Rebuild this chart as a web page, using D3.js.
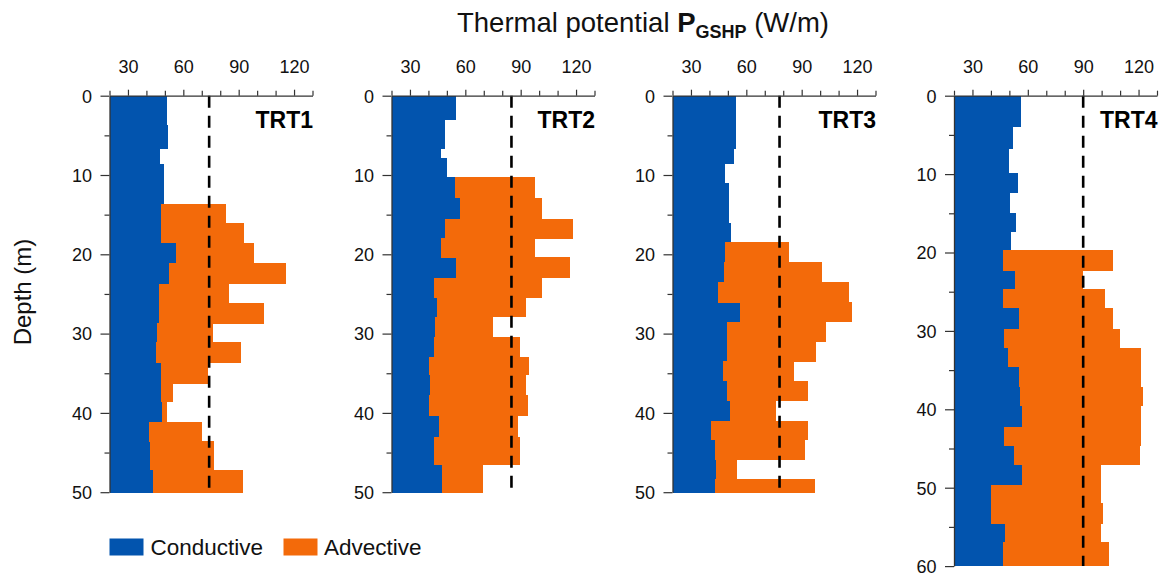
<!DOCTYPE html>
<html><head><meta charset="utf-8">
<script src="https://cdn.jsdelivr.net/npm/d3@7"></script>
<style>body{margin:0;background:#fff} svg{display:block;font-family:Arial,"Liberation Sans",sans-serif}</style>
</head><body><svg id="chart" width="1169" height="577"></svg>
<script>
// ---------- data ----------
const panelNames = ["TRT1", "TRT2", "TRT3", "TRT4"];
const xTickLabels = [30, 60, 90, 120];
const meanValues = [74, 85, 78, 90];          // dashed reference line (W/m)
const maxDepths = [50, 50, 50, 60];
const seriesNames = ["Conductive", "Advective"];

// depth boundaries (m), conductive potential, total potential (conductive + advective)
const trt1Depths = [0, 3.7, 6.7, 8.6, 11.3, 13.7, 16.1, 18.6, 21.1, 23.7, 26.1, 28.7, 31.0, 33.7, 36.3, 38.6, 41.1, 43.6, 47.2, 50];
const trt1Conductive = [51.3, 51.8, 47.1, 49.8, 49.5, 47.7, 47.7, 56.1, 52.2, 46.6, 46.6, 45.9, 45.1, 47.7, 47.9, 48.4, 41.4, 41.7, 43.7];
const trt1Total = [null, null, null, null, null, 83.2, 92.7, 98.3, 115.6, 84.6, 103.7, 75.9, 91.4, 73.2, 54.5, 51.4, 70.3, 76.8, 92.2];

const trt2Depths = [0, 3.0, 6.7, 7.8, 10.3, 12.9, 15.5, 18.0, 20.4, 23.0, 25.5, 27.9, 30.4, 32.9, 35.2, 37.7, 40.3, 43.0, 46.5, 50];
const trt2Conductive = [55.1, 49.1, 46.7, 50.0, 54.5, 56.9, 48.9, 46.7, 55.1, 42.9, 44.9, 43.8, 43.1, 40.2, 40.9, 40.5, 45.6, 43.1, 47.3];
const trt2Total = [null, null, null, null, 97.6, 101.6, 118.4, 97.6, 116.5, 101.3, 93.1, 75.1, 89.8, 94.7, 93.1, 94.0, 88.5, 89.5, 69.8];

const trt3Depths = [0, 6.7, 8.6, 11.05, 13.6, 16.1, 18.5, 21.0, 23.5, 26.05, 28.5, 31.0, 33.5, 36.0, 38.5, 41.0, 43.4, 45.9, 48.3, 50];
const trt3Conductive = [54.5, 53.4, 48.2, 50.5, 50.4, 51.8, 48.7, 48.0, 44.4, 56.8, 49.3, 49.8, 47.3, 49.6, 50.9, 40.6, 43.2, 43.7, 43.2];
const trt3Total = [null, null, null, null, null, null, 83.3, 100.8, 115.4, 117.4, 103.2, 97.9, 85.9, 93.2, 76.1, 93.2, 91.6, 54.7, 97.2];

const trt4Depths = [0, 3.9, 6.8, 9.8, 12.4, 14.9, 17.4, 19.7, 22.3, 24.7, 27.1, 29.7, 32.2, 34.6, 37.1, 39.6, 42.2, 44.7, 47.1, 49.6, 52.0, 54.6, 56.9, 60];
const trt4Conductive = [56.4, 51.7, 49.6, 54.6, 50.1, 53.6, 51.0, 46.5, 52.8, 46.7, 55.4, 47.0, 49.2, 55.2, 55.5, 57.0, 47.0, 52.6, 57.0, 40.3, 40.3, 47.4, 46.3];
const trt4Total = [null, null, null, null, null, null, null, 106.1, 90.0, 101.7, 106.1, 109.9, 121.1, 121.3, 122.2, 121.1, 121.5, 120.8, 99.9, 99.9, 100.7, 99.7, 103.9];

const depthsAll = [trt1Depths, trt2Depths, trt3Depths, trt4Depths];
const condAll = [trt1Conductive, trt2Conductive, trt3Conductive, trt4Conductive];
const totalAll = [trt1Total, trt2Total, trt3Total, trt4Total];

// ---------- layout ----------
const colBlue = "#0254AE", colOrange = "#F36A0A", axisCol = "#333";
const panelLeft = [109.5, 391.5, 672.5, 954];
const panelWidth = 203;
const plotTop = 95.7;
const pxPerMeter = [7.93, 7.93, 7.93, 7.84];
const xDomain = [20, 130];
const FONT = "Arial, 'Liberation Sans', sans-serif";

const svg = d3.select("#chart");

panelNames.forEach((name, p) => {
  const x = d3.scaleLinear().domain(xDomain).range([panelLeft[p], panelLeft[p] + panelWidth]);
  const y = d3.scaleLinear().domain([0, maxDepths[p]]).range([plotTop, plotTop + maxDepths[p] * pxPerMeter[p]]);
  const g = svg.append("g");
  const depths = depthsAll[p], cond = condAll[p], total = totalAll[p];
  const segs = cond.map((c, i) => ({ d0: depths[i], d1: depths[i + 1], c, t: total[i] }));

  g.selectAll("rect.cond").data(segs).join("rect")
    .attr("class", "cond")
    .attr("x", x(xDomain[0])).attr("y", d => y(d.d0))
    .attr("width", d => x(d.c) - x(xDomain[0]))
    .attr("height", d => y(d.d1) - y(d.d0) + 0.3)
    .attr("fill", colBlue).attr("shape-rendering", "crispEdges");

  g.selectAll("rect.adv").data(segs.filter(d => d.t != null)).join("rect")
    .attr("class", "adv")
    .attr("x", d => x(d.c)).attr("y", d => y(d.d0))
    .attr("width", d => x(d.t) - x(d.c))
    .attr("height", d => y(d.d1) - y(d.d0) + 0.3)
    .attr("fill", colOrange).attr("shape-rendering", "crispEdges");

  // dashed mean line
  g.append("line")
    .attr("x1", x(meanValues[p])).attr("x2", x(meanValues[p]))
    .attr("y1", y(0)).attr("y2", y(maxDepths[p]))
    .attr("stroke", "#000").attr("stroke-width", 2.6).attr("stroke-dasharray", "12,8");

  // top axis
  const xAxis = d3.axisTop(x).tickValues(d3.range(20, 131, 10))
    .tickSizeInner(5).tickSizeOuter(0)
    .tickFormat(v => xTickLabels.includes(v) ? v : "");
  const ax = g.append("g").attr("transform", `translate(0,${plotTop})`).call(xAxis);
  ax.select(".domain").attr("stroke", axisCol).attr("stroke-width", 1.3);
  ax.selectAll(".tick line").attr("stroke", axisCol).attr("stroke-width", 1.2)
    .attr("y2", v => xTickLabels.includes(v) ? -6 : -5);
  ax.selectAll(".tick text").attr("y", -22.5).attr("dy", 0)
    .attr("font-size", 18).attr("fill", "#111").attr("font-family", FONT);

  // left axis
  const yAxis = d3.axisLeft(y).tickValues(d3.range(0, maxDepths[p] + 1, 5))
    .tickSizeInner(5).tickSizeOuter(0)
    .tickFormat(v => v % 10 === 0 ? v : "");
  const ay = g.append("g").attr("transform", `translate(${panelLeft[p]},0)`).call(yAxis);
  ay.select(".domain").attr("stroke", axisCol).attr("stroke-width", 1.3);
  ay.selectAll(".tick line").attr("stroke", axisCol).attr("stroke-width", 1.2)
    .attr("x2", v => v % 10 === 0 ? -9 : -5);
  ay.selectAll(".tick text").attr("x", -17.5).attr("dy", "0.35em")
    .attr("font-size", 18).attr("fill", "#111").attr("font-family", FONT);

  // panel label
  g.append("text").attr("x", panelLeft[p] + 146).attr("y", 127.5)
    .attr("font-size", 23).attr("font-weight", "bold").attr("fill", "#000").text(name);
});

// title
const title = svg.append("text").attr("x", 643).attr("y", 32).attr("text-anchor", "middle")
  .attr("font-size", 27.5).attr("fill", "#111");
title.append("tspan").text("Thermal potential ");
title.append("tspan").attr("font-weight", "bold").text("P");
title.append("tspan").attr("font-weight", "bold").attr("font-size", 18).attr("dy", 6).text("GSHP");
title.append("tspan").attr("dy", -6).text(" (W/m)");

// y label
svg.append("text").attr("transform", "translate(30.5,292) rotate(-90)")
  .attr("text-anchor", "middle").attr("font-size", 24).attr("fill", "#111").text("Depth (m)");

// legend
const legX = [109.5, 283.5];
const legTextX = [150.5, 324];
[colBlue, colOrange].forEach((c, i) => {
  svg.append("rect").attr("x", legX[i]).attr("y", 538.5).attr("width", 34).attr("height", 17).attr("fill", c);
  svg.append("text").attr("x", legTextX[i]).attr("y", 554.5).attr("font-size", 22.5).attr("fill", "#111").text(seriesNames[i]);
});
</script></body></html>
